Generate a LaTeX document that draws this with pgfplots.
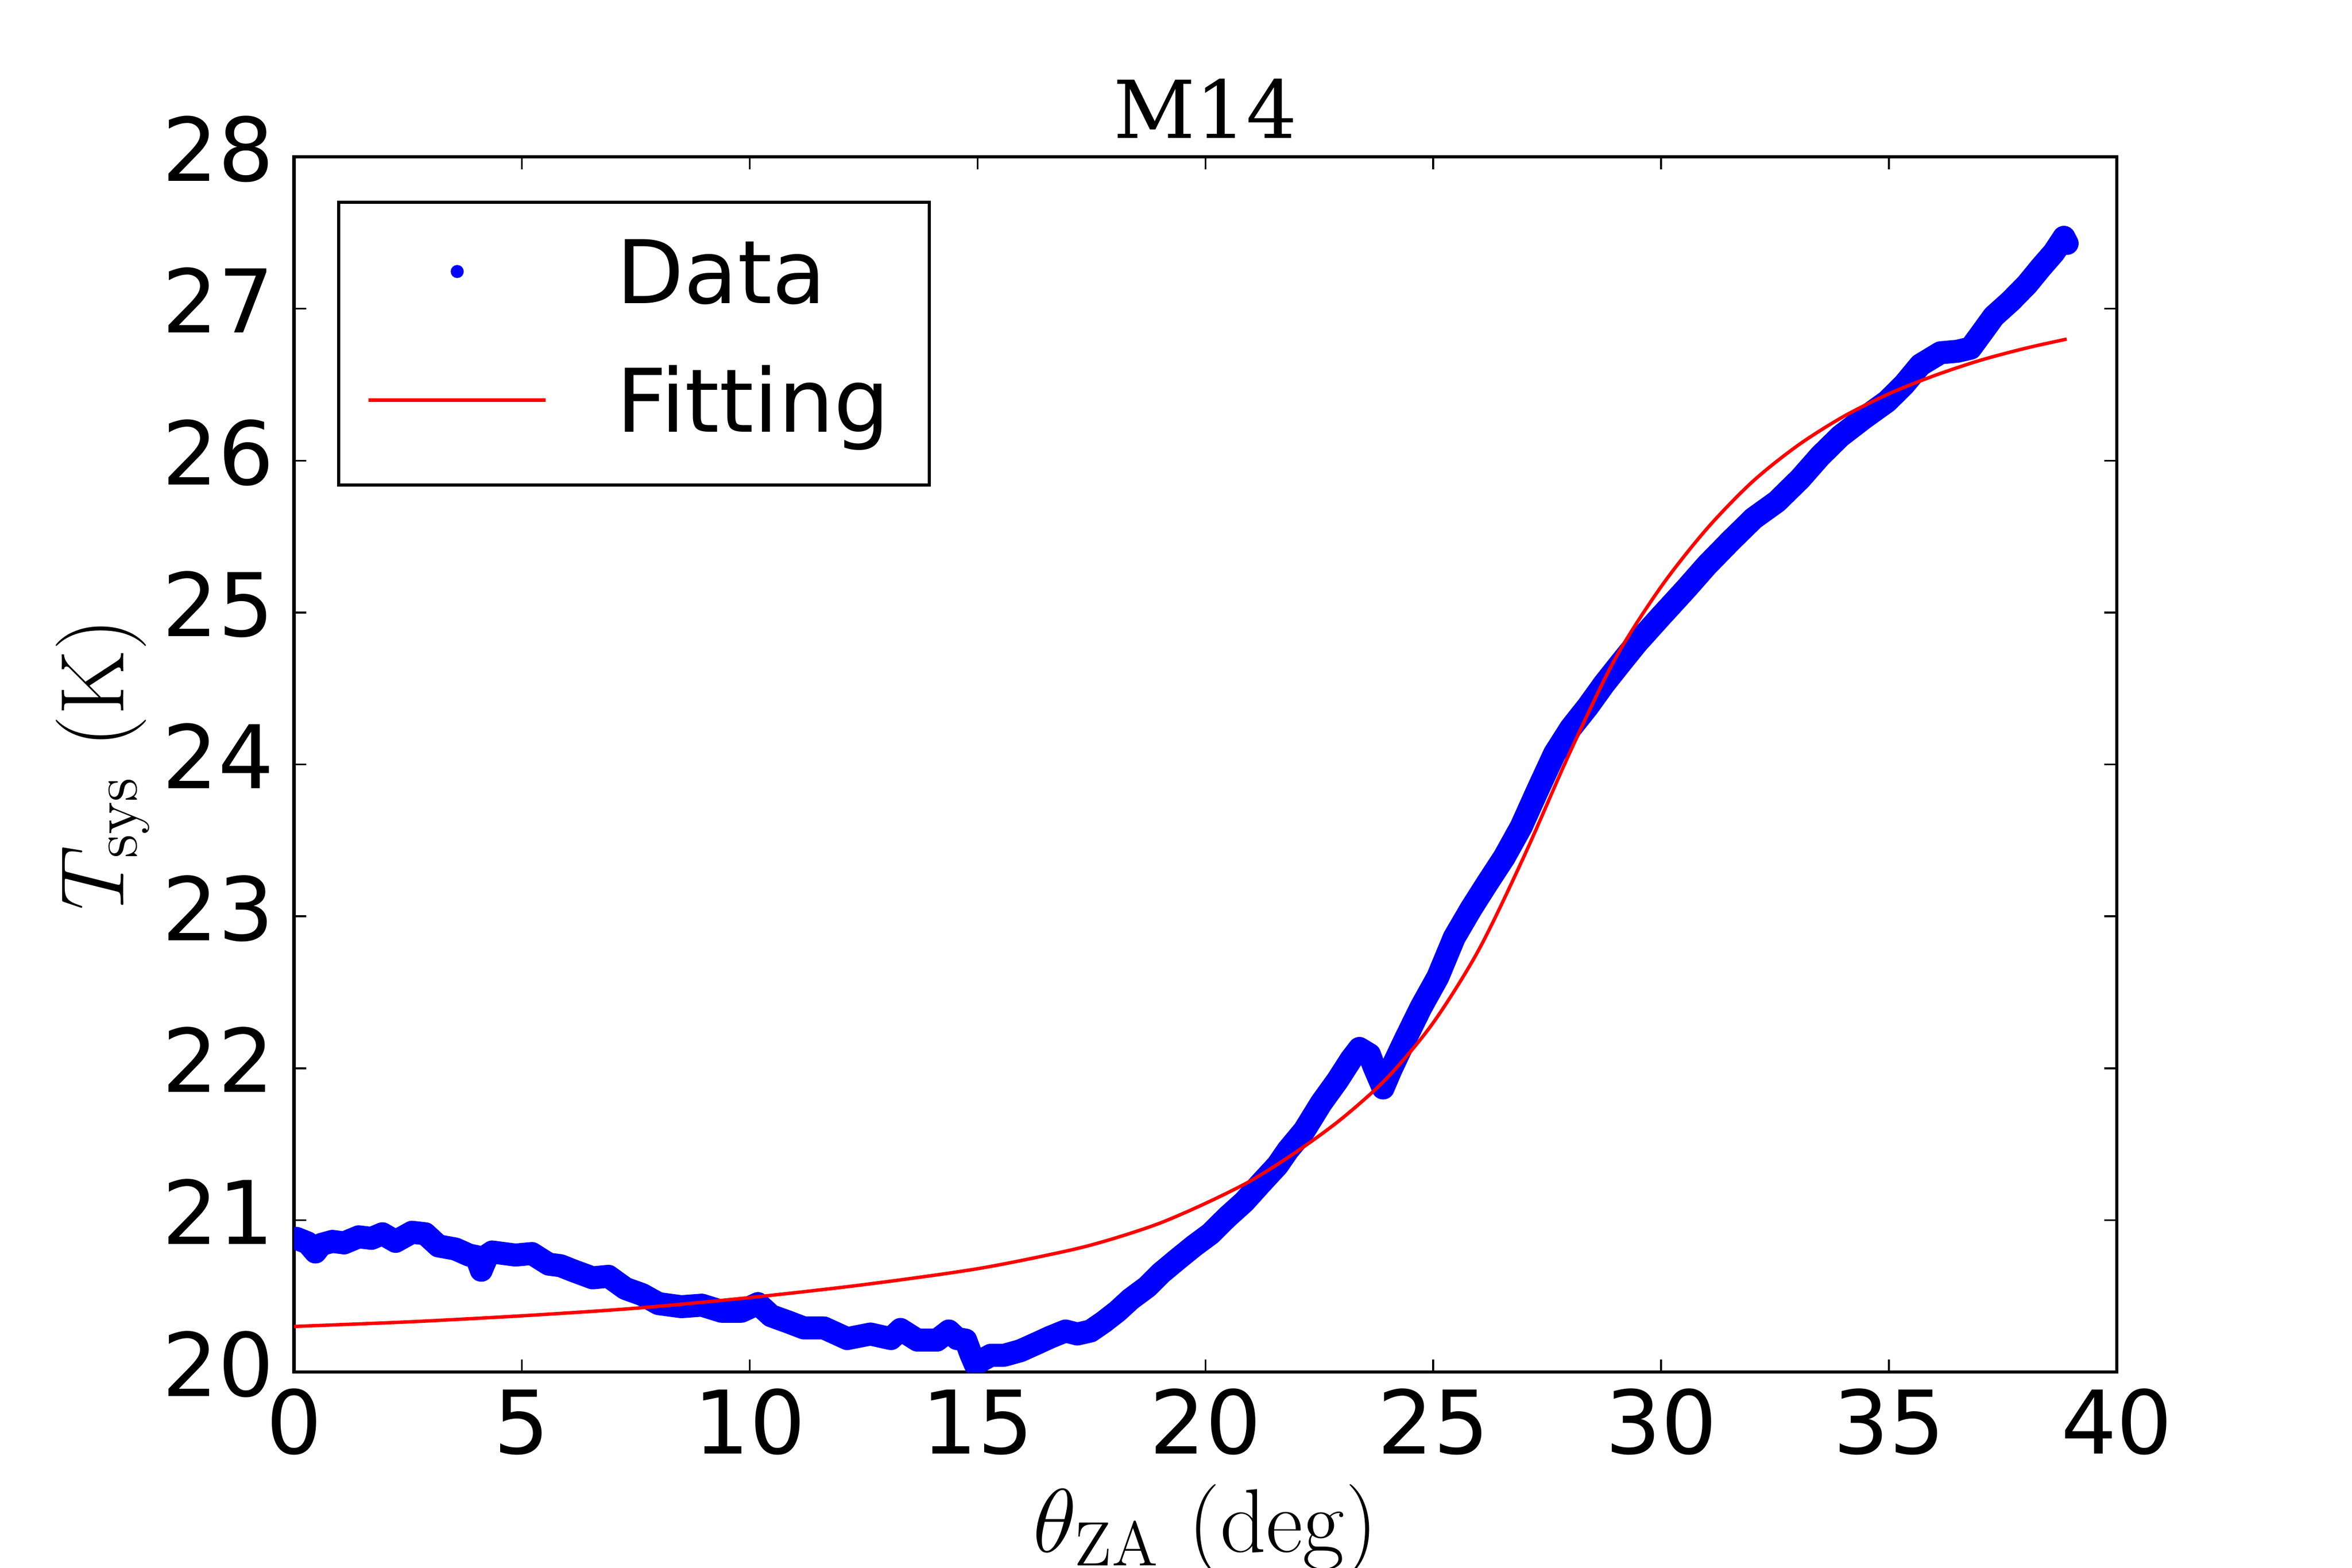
\documentclass[border=0pt]{standalone}
\usepackage[no-math]{fontspec}
\setmainfont{DejaVu Sans}
\newfontfamily\titlefont{DejaVu Serif}
\usepackage{pgfplots}
\pgfplotsset{compat=1.18}

\pgfplotstableread{
x y
0.05 20.88
0.30 20.85
0.47 20.79
0.60 20.84
0.84 20.86
1.10 20.85
1.42 20.89
1.70 20.88
1.94 20.91
2.23 20.86
2.59 20.92
2.88 20.91
3.17 20.83
3.54 20.81
3.84 20.77
4.00 20.76
4.11 20.67
4.25 20.77
4.35 20.79
4.60 20.78
4.86 20.77
5.22 20.78
5.59 20.71
5.85 20.70
6.10 20.67
6.55 20.62
6.90 20.63
7.27 20.55
7.64 20.51
8.00 20.45
8.50 20.43
8.95 20.44
9.38 20.40
9.82 20.40
10.18 20.45
10.47 20.37
10.84 20.33
11.19 20.29
11.63 20.29
12.14 20.22
12.65 20.25
13.10 20.22
13.31 20.28
13.68 20.21
14.11 20.21
14.37 20.27
14.55 20.22
14.74 20.21
14.85 20.12
14.95 20.05
15.05 20.07
15.29 20.11
15.58 20.11
15.94 20.14
16.31 20.19
16.60 20.23
16.93 20.27
17.19 20.25
17.48 20.27
17.77 20.33
18.07 20.40
18.36 20.48
18.72 20.56
19.02 20.65
19.38 20.74
19.75 20.83
20.11 20.91
20.48 21.02
20.85 21.12
21.21 21.24
21.58 21.36
21.81 21.46
22.17 21.59
22.54 21.77
22.90 21.92
23.20 22.06
23.38 22.13
23.60 22.09
23.70 22.01
23.90 21.87
24.07 21.99
24.37 22.18
24.73 22.40
25.10 22.60
25.46 22.86
25.83 23.05
26.19 23.22
26.56 23.39
26.93 23.59
27.29 23.83
27.66 24.07
28.02 24.24
28.39 24.38
28.75 24.53
29.12 24.67
29.47 24.80
29.98 24.97
30.56 25.16
31.00 25.31
31.52 25.47
32.03 25.62
32.54 25.73
33.05 25.88
33.49 26.03
33.93 26.16
34.45 26.28
34.96 26.39
35.33 26.50
35.69 26.63
36.13 26.71
36.50 26.72
36.79 26.74
37.01 26.83
37.30 26.95
37.67 27.05
38.03 27.16
38.33 27.27
38.62 27.37
38.84 27.47
38.91 27.43
}\datatable

\pgfplotstableread{
x y
0.0 20.30
2.5 20.33
5.0 20.37
7.5 20.42
10.0 20.49
12.5 20.575
15.0 20.68
17.0 20.80
18.0 20.88
19.0 20.98
20.0 21.11
21.0 21.26
22.0 21.45
23.0 21.67
24.0 21.94
25.0 22.30
26.0 22.78
27.0 23.40
28.0 24.08
29.0 24.70
30.0 25.17
31.0 25.55
32.0 25.86
33.0 26.10
34.0 26.29
35.0 26.44
36.0 26.56
37.0 26.66
38.0 26.74
38.9 26.80
}\fittable

\begin{document}
\begin{tikzpicture}
\path[use as bounding box] (0,0) rectangle (450pt,300pt);
\begin{axis}[
  at={(56.25pt,37.5pt)}, anchor=south west,
  scale only axis, width=348.75pt, height=232.5pt,
  xmin=0, xmax=40, ymin=20, ymax=28,
  xtick={0,5,...,40}, ytick={20,21,...,28},
  tick align=inside,
  major tick length=2.4pt,
  every tick/.style={black, line width=0.35pt},
  axis line style={line width=0.65pt},
  /pgf/number format/assume math mode=true,
  tick label style={font=\fontsize{16.8}{16.8}\selectfont},
  xticklabel style={anchor=base, inner sep=0pt, yshift=-15.6pt},
  yticklabel style={anchor=base east, inner sep=0pt, xshift=-3.65pt, yshift=-4.6pt},
  title={M14},
  every axis title shift=0pt,
  title style={font=\titlefont\fontsize{15.3}{15.3}\selectfont, at={(axis description cs:0.5,1)}, anchor=base, yshift=3.6pt},
  xlabel={$\theta_{\mathrm{ZA}}\ (\mathrm{deg})$},
  ylabel={$T_{\mathrm{sys}}\ (\mathrm{K})$},
  label style={font=\fontsize{16.6}{16.6}\selectfont},
  xlabel style={at={(axis description cs:0.5,-0.148)}, anchor=base},
  ylabel style={at={(axis description cs:-0.0936,0.5)}, anchor=base},
  legend cell align=left,
  legend style={at={(0.02366,0.9639)}, anchor=north west, draw=black, line width=0.6pt,
    inner xsep=5.4pt, inner ysep=7pt, row sep=9.1pt, column sep=13.2pt,
    font=\fontsize{16.8}{16.8}\selectfont,
    nodes={inner sep=0pt, text height=12.35pt, text depth=3.15pt}},
]
\addplot[blue, line width=4.4pt, line join=round, line cap=round,
  legend image code/.code={\fill[blue, draw=none] (16.95pt,1.5pt) circle (1.25pt); \path[draw=none, fill=none] (0pt,1.5pt) -- (33.9pt,1.5pt);}]
  table[x=x, y=y] {\datatable};
\addlegendentry{Data}
\addplot[red, line width=0.65pt, smooth,
  legend image code/.code={\draw[red, line width=0.65pt] (0pt,1.5pt) -- (33.9pt,1.5pt);}]
  table[x=x, y=y] {\fittable};
\addlegendentry{Fitting\kern2.2pt}
\end{axis}
\end{tikzpicture}
\end{document}
